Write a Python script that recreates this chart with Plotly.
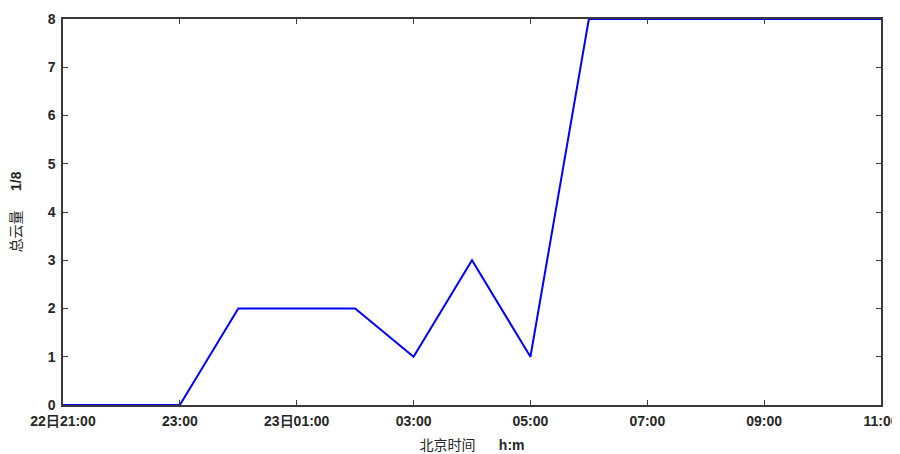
import plotly.graph_objects as go

times = ["2024-01-22 21:00", "2024-01-22 22:00", "2024-01-22 23:00", "2024-01-23 00:00",
         "2024-01-23 01:00", "2024-01-23 02:00", "2024-01-23 03:00", "2024-01-23 04:00",
         "2024-01-23 05:00", "2024-01-23 06:00", "2024-01-23 07:00", "2024-01-23 08:00",
         "2024-01-23 09:00", "2024-01-23 10:00", "2024-01-23 11:00"]
cloud = [0, 0, 0, 2, 2, 2, 1, 3, 1, 8, 8, 8, 8, 8, 8]

tick_vals = ["2024-01-22 21:00", "2024-01-22 23:00", "2024-01-23 01:00", "2024-01-23 03:00",
             "2024-01-23 05:00", "2024-01-23 07:00", "2024-01-23 09:00", "2024-01-23 11:00"]
tick_text = ["22日21:00", "23:00", "23日01:00", "03:00", "05:00", "07:00", "09:00", "11:00"]

fig = go.Figure()
fig.add_trace(go.Scatter(x=times, y=cloud, mode="lines",
                         line=dict(color="#0000FF", width=2)))

axis_common = dict(showline=True, linecolor="#3a3a3a", linewidth=1.5, mirror="ticks",
                   ticks="inside", ticklen=5, tickwidth=1, tickcolor="#3a3a3a",
                   showgrid=False, zeroline=False, automargin=False,
                   ticklabeloverflow="allow",
                   tickfont=dict(family="Liberation Sans, Arial", size=14, color="#262626",
                                 weight="bold"))

# page body has an 8px default margin; margins are set so the plot area lands where the reference has it
fig.update_layout(
    width=900, height=446,
    margin=dict(l=55, r=27, t=11, b=49),
    paper_bgcolor="white", plot_bgcolor="white",
    showlegend=False,
    font=dict(family="Liberation Sans, Noto Sans CJK SC", color="#262626"),
    xaxis=dict(axis_common, type="date", range=[times[0], times[-1]],
               tickvals=tick_vals, ticktext=tick_text, ticklabelstandoff=2,
               title=dict(text="<span style='font-family:Noto Sans CJK SC;font-weight:normal'>北京时间</span>&nbsp;&nbsp;&nbsp;&nbsp;&nbsp;&nbsp;<b>h:m</b>",
                          font=dict(size=14, color="#262626"), standoff=16)),
    yaxis=dict(axis_common, range=[0, 8], dtick=1, ticklabelstandoff=3,
               title=dict(text="总云量&nbsp;&nbsp;&nbsp;&nbsp;&nbsp;<b>1/8</b>",
                          font=dict(size=14, color="#262626"), standoff=28)),
)

fig.write_html("out.html")
